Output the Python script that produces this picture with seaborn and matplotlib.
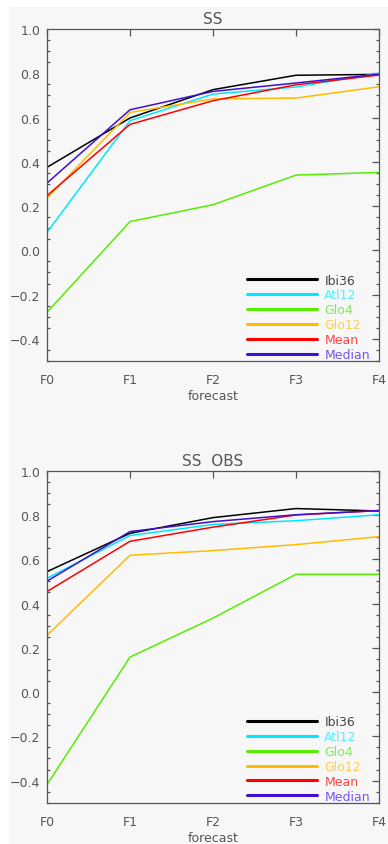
import matplotlib
matplotlib.use("Agg")
import matplotlib.pyplot as plt
from matplotlib.patches import Rectangle
from matplotlib.lines import Line2D
from matplotlib.ticker import MultipleLocator, FixedLocator, FuncFormatter
import numpy as np
import pandas as pd
import seaborn as sns

# forecast lead times
forecasts = ["F0", "F1", "F2", "F3", "F4"]

# model runs and their line colours
models = ["Ibi36", "Atl12", "Glo4", "Glo12", "Mean", "Median"]
colors = ["#000000", "#00e8ff", "#55ee00", "#ffbb00", "#ff0000", "#4010d0"]
text_colors = ["#444444", "#55eeff", "#77ee55", "#ffcc55", "#ff4444", "#7755ee"]

# skill score against the analysis
ss_ibi36 = [0.375, 0.598, 0.726, 0.791, 0.795]
ss_atl12 = [0.081, 0.586, 0.706, 0.738, 0.800]
ss_glo4 = [-0.280, 0.130, 0.206, 0.340, 0.352]
ss_glo12 = [0.236, 0.623, 0.684, 0.688, 0.739]
ss_mean = [0.247, 0.569, 0.676, 0.748, 0.792]
ss_median = [0.304, 0.635, 0.718, 0.756, 0.796]

# skill score against observations
obs_ibi36 = [0.544, 0.717, 0.788, 0.829, 0.818]
obs_atl12 = [0.514, 0.707, 0.757, 0.774, 0.801]
obs_glo4 = [-0.418, 0.158, 0.334, 0.532, 0.532]
obs_glo12 = [0.256, 0.618, 0.639, 0.666, 0.702]
obs_mean = [0.454, 0.681, 0.745, 0.800, 0.820]
obs_median = [0.501, 0.725, 0.770, 0.801, 0.820]

panels = [
    ("SS", [ss_ibi36, ss_atl12, ss_glo4, ss_glo12, ss_mean, ss_median]),
    ("SS  OBS", [obs_ibi36, obs_atl12, obs_glo4, obs_glo12, obs_mean, obs_median]),
]

sns.set_style("white")
plt.rcParams["font.family"] = ["DejaVu Sans"]
ink = "#555555"

W, H = 388, 845
fig = plt.figure(figsize=(W / 100, H / 100), dpi=100)
fig.patch.set_facecolor("white")
fig.patches.append(Rectangle((9 / W, 0), 1 - 9 / W, 1 - 8 / H, transform=fig.transFigure,
                             facecolor="#f7f7f7", edgecolor="none", zorder=-10))

left, width = 47 / W, 332 / W
tops = [30, 471.7]
ph = 332

for (title, series), top in zip(panels, tops):
    ax = fig.add_axes([left, 1 - (top + ph) / H, width, ph / H])
    ax.set_facecolor("none")
    rows = []
    for name, vals in zip(models, series):
        for i, v in enumerate(vals):
            rows.append({"forecast": i, "value": v, "model": name})
    df = pd.DataFrame(rows)
    sns.lineplot(data=df, x="forecast", y="value", hue="model", hue_order=models,
                 palette=colors, linewidth=1.1, ax=ax, legend=False, sort=False)
    ax.set_xlim(0, 4)
    ax.set_ylim(-0.5, 1.0)
    ax.xaxis.set_major_locator(FixedLocator(range(len(forecasts))))
    ax.set_xticklabels(forecasts)
    ax.yaxis.set_major_locator(MultipleLocator(0.2))
    ax.yaxis.set_minor_locator(MultipleLocator(0.05))
    ax.yaxis.set_major_formatter(FuncFormatter(
        lambda v, p: f"{v:.1f}".replace("-", "\u2212")))
    ax.tick_params(axis="both", which="major", direction="in", length=5, width=0.9,
                   color=ink, labelcolor=ink, labelsize=9, top=True, right=True, pad=5)
    ax.tick_params(axis="y", which="minor", direction="in", length=2.5, width=0.9,
                   color=ink, left=True, right=True)
    ax.tick_params(axis="x", which="major", pad=9)
    for sp in ax.spines.values():
        sp.set_color(ink)
        sp.set_linewidth(0.9)
    ax.set_title(title, color=ink, fontsize=11, pad=4)
    ax.set_xlabel("forecast", color=ink, fontsize=9, labelpad=2)
    ax.set_ylabel("")

    handles = [Line2D([], [], color=c, lw=2.2) for c in colors]
    leg = ax.legend(handles, models, loc="lower left", bbox_to_anchor=(0.602, 0.0),
                    frameon=False, fontsize=9, handlelength=5.6, handletextpad=0.6,
                    labelspacing=0.15, borderpad=0, borderaxespad=0)
    for t, tc in zip(leg.get_texts(), text_colors):
        t.set_color(tc)

fig.savefig("out.png", dpi=100)
